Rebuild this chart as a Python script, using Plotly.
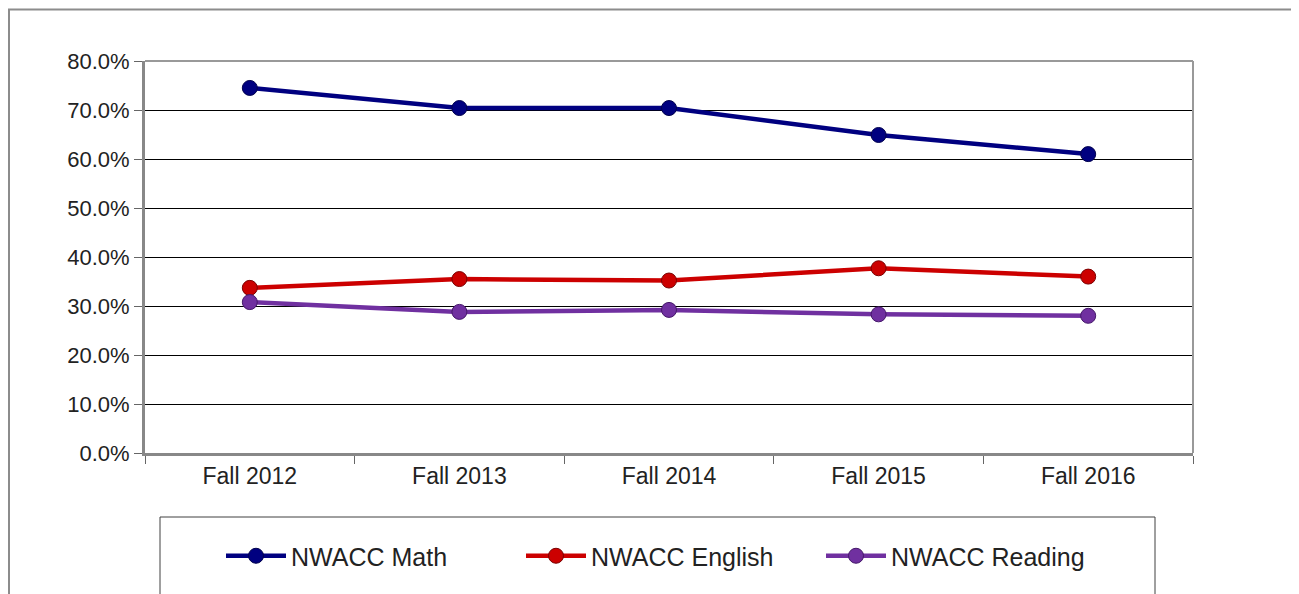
import plotly.graph_objects as go

categories = ["Fall 2012", "Fall 2013", "Fall 2014", "Fall 2015", "Fall 2016"]
math_vals = [0.745, 0.704, 0.704, 0.649, 0.610]
english_vals = [0.337, 0.355, 0.352, 0.377, 0.360]
reading_vals = [0.308, 0.288, 0.292, 0.283, 0.280]
y_ticks = [0.0, 0.1, 0.2, 0.3, 0.4, 0.5, 0.6, 0.7, 0.8]

series = [
    ("NWACC Math", math_vals, "#000080", "#00004d"),
    ("NWACC English", english_vals, "#cc0000", "#7a0000"),
    ("NWACC Reading", reading_vals, "#7030a0", "#45186a"),
]

FONT = "Liberation Sans, Arial, sans-serif"

fig = go.Figure()
for name, vals, col, dark in series:
    fig.add_trace(go.Scatter(
        x=categories, y=vals, name=name, mode="lines+markers",
        line=dict(color=col, width=4.5),
        marker=dict(size=15, color=col, line=dict(color=dark, width=1)),
    ))

W, H = 1299, 594
OFF = 8  # page body offset
L, R, T, B = 145 - OFF, 1193 - OFF, 61 - OFF, 453 - OFF
pw, ph = R - L, B - T


def px(x):
    return (x - OFF - L) / pw


def py(y):
    return (B - (y - OFF)) / ph


shapes = [
    # outer chart border
    dict(type="rect", xref="paper", yref="paper",
         x0=px(9), x1=px(1320), y0=py(9.5), y1=py(620),
         line=dict(color="#8c8c8c", width=2), fillcolor="rgba(0,0,0,0)", layer="below"),
    # legend box
    dict(type="rect", xref="paper", yref="paper",
         x0=px(160), x1=px(1155), y0=py(517), y1=py(620),
         line=dict(color="#404040", width=1), fillcolor="rgba(0,0,0,0)", layer="below"),
    # plot area top/right border
    dict(type="line", xref="paper", yref="paper", x0=0, x1=1, y0=1, y1=1,
         line=dict(color="#999999", width=2)),
    dict(type="line", xref="paper", yref="paper", x0=1, x1=1, y0=0, y1=1,
         line=dict(color="#999999", width=2)),
]

fig.update_layout(
    width=W - OFF, height=H - OFF,
    margin=dict(l=L, r=W - OFF - R, t=T, b=H - OFF - B),
    paper_bgcolor="white", plot_bgcolor="white",
    font=dict(family=FONT, size=23, color="#222222"),
    showlegend=True,
    legend=dict(orientation="h", x=px(671), xanchor="center", y=py(556), yanchor="middle",
                font=dict(size=25, color="#222222"), bgcolor="rgba(0,0,0,0)",
                itemwidth=60, tracegroupgap=0,
                entrywidth=225, entrywidthmode="pixels"),
    shapes=shapes,
    xaxis=dict(
        type="category", range=[-0.5, 4.5], tickson="boundaries",
        ticks="outside", ticklen=8, tickcolor="#666666", tickwidth=1,
        showline=True, linecolor="#888888", linewidth=3,
        showgrid=False, zeroline=False,
        tickfont=dict(size=23, family=FONT, color="#222222"),
        fixedrange=True,
    ),
    yaxis=dict(
        range=[0, 0.8], tickvals=y_ticks, tickformat=".1%",
        ticks="outside", ticklen=8, tickcolor="#666666", tickwidth=1,
        showline=True, linecolor="#888888", linewidth=3,
        showgrid=True, gridcolor="#000000", gridwidth=1,
        zeroline=False,
        tickfont=dict(size=22, family=FONT, color="#222222"),
        fixedrange=True,
    ),
)

fig.write_html("out.html")
